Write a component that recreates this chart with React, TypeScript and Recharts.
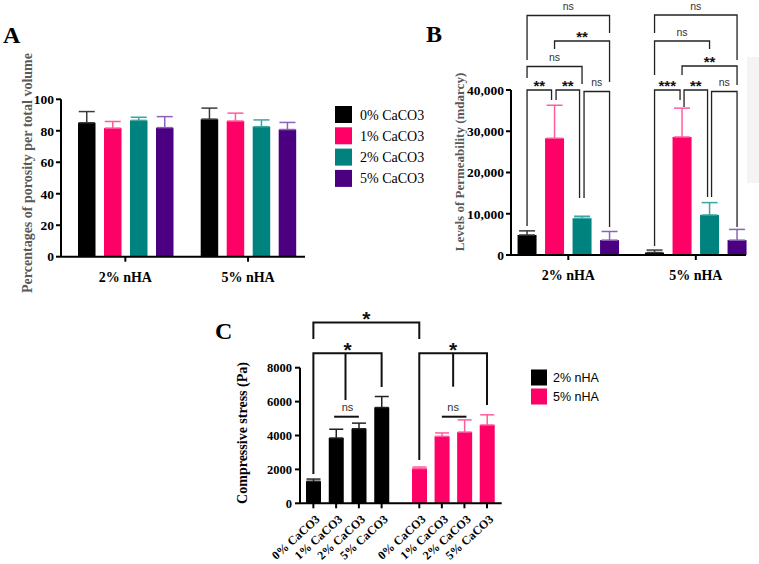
import React from 'react';
import { BarChart, Bar, XAxis, YAxis, ErrorBar } from 'recharts';

// ---------- shared categories ----------
const nhaGroups = ['2% nHA', '5% nHA'];
const caco3Levels = ['0% CaCO3', '1% CaCO3', '2% CaCO3', '5% CaCO3'];
const levelColors = ['#000000', '#FF0066', '#00827F', '#4B0082'];
const levelErrColors = ['#3a3a3a', '#FF5C9D', '#3BA6A2', '#8D62B8'];
const nhaColors = ['#000000', '#FF0066'];

// ---------- Panel A: porosity (%) per CaCO3 level, [2% nHA, 5% nHA] ----------
const porosity0 = [85.1, 87.4];
const porosity1 = [81.7, 86.2];
const porosity2 = [86.6, 82.6];
const porosity5 = [82.0, 80.8];
const porosityErr0 = [7.1, 7.0];
const porosityErr1 = [4.2, 5.0];
const porosityErr2 = [2.0, 4.3];
const porosityErr5 = [7.0, 4.5];
const porosityTicks = [0, 20, 40, 60, 80, 100];

// ---------- Panel B: permeability (mdarcy) ----------
const perm0 = [4850, 600];
const perm1 = [28300, 28600];
const perm2 = [8900, 9700];
const perm5 = [3600, 3600];
const permErr0 = [1000, 600];
const permErr1 = [8000, 7000];
const permErr2 = [500, 3000];
const permErr5 = [2100, 2600];
const permTicks = [0, 10000, 20000, 30000, 40000];

// ---------- Panel C: compressive stress (Pa) ----------
const stress2nHA = [1300, 3850, 4400, 5650];
const stress2nHAErr = [130, 520, 330, 650];
const stress5nHA = [2050, 3950, 4200, 4620];
const stress5nHAErr = [90, 200, 720, 600];
const stressTicks = [0, 2000, 4000, 6000, 8000];

const SERIF = "'Liberation Serif', 'Times New Roman', serif";
const SANS = "'Liberation Sans', Arial, sans-serif";

const groupedTable = (vals: number[][], errs: number[][]) =>
  nhaGroups.map((g, i) => {
    const row: any = { group: g };
    vals.forEach((v, k) => {
      row[`s${k}`] = v[i];
      row[`e${k}`] = [0, errs[k][i]];
    });
    return row;
  });

const dataA = groupedTable(
  [porosity0, porosity1, porosity2, porosity5],
  [porosityErr0, porosityErr1, porosityErr2, porosityErr5]
);
const dataB = groupedTable(
  [perm0, perm1, perm2, perm5],
  [permErr0, permErr1, permErr2, permErr5]
);
const dataC1 = caco3Levels.map((c, i) => ({ cat: c, v: stress2nHA[i], e: [0, stress2nHAErr[i]] }));
const dataC2 = caco3Levels.map((c, i) => ({ cat: c, v: stress5nHA[i], e: [0, stress5nHAErr[i]] }));

// ---------- layouts (pixel geometry of plot areas) ----------
const LA = { left: 61, right: 305, top: 99.3, bottom: 256.7, padL: 3, padR: -4.4, barSize: 17.5, barGap: 8.5 };
const LB = { left: 511, right: 746, top: 90, bottom: 255, padL: -6.45, padR: -13.55, barSize: 19, barGap: 8.5 };
const LC1 = { left: 300, right: 393, top: 367.7, bottom: 503.3, padL: 2, padR: 0 };
const LC2 = { left: 393, right: 501.7, top: 367.7, bottom: 503.3, padL: 15, padR: 3.4 };

const groupedCenter = (L: any, g: number, s: number) => {
  const start = L.left + L.padL;
  const end = L.right - L.padR;
  const band = (end - start) / nhaGroups.length;
  const n = caco3Levels.length;
  const total = n * L.barSize + (n - 1) * L.barGap;
  const off = (band - total) / 2;
  return start + g * band + off + s * (L.barSize + L.barGap) + L.barSize / 2;
};
const catCenter = (L: any, i: number) => {
  const start = L.left + L.padL;
  const end = L.right - L.padR;
  const band = (end - start) / caco3Levels.length;
  return start + band * (i + 0.5);
};

const axisStroke = { stroke: '#000', strokeWidth: 2 };
const tickFont = { fill: '#000', fontSize: 13.5, fontWeight: 700, fontFamily: SERIF };

const RotTick = (props: any) => {
  const { x, y, payload } = props;
  return (
    <g transform={`translate(${x},${y})`}>
      <text transform="rotate(-42)" textAnchor="end" x={-2} y={0} dy={13}
        fontFamily={SERIF} fontWeight={700} fontSize={12} fill="#000">
        {payload.value}
      </text>
    </g>
  );
};

// ---------- significance annotations ----------
const bBrackets = [
  { g: 0, a: 0, b: 3, label: 'ns', y: 15.5, ya: 60, yb: 33, ia: 0, ib: 0 },
  { g: 0, a: 1, b: 3, label: '**', y: 41, ya: 49, yb: 82, ia: 0, ib: 0 },
  { g: 0, a: 0, b: 2, label: 'ns', y: 66.5, ya: 78, yb: 84, ia: 0, ib: 0 },
  { g: 0, a: 0, b: 1, label: '**', y: 90, ya: 226, yb: 100, ia: 0, ib: 3 },
  { g: 0, a: 1, b: 2, label: '**', y: 90, ya: 100, yb: 198, ia: 1.5, ib: 2.5 },
  { g: 0, a: 2, b: 3, label: 'ns', y: 91.5, ya: 198, yb: 227, ia: 2, ib: 0 },
  { g: 1, a: 0, b: 3, label: 'ns', y: 15, ya: 33, yb: 60, ia: 0, ib: 0 },
  { g: 1, a: 0, b: 2, label: 'ns', y: 41, ya: 75, yb: 49, ia: 0, ib: 0 },
  { g: 1, a: 1, b: 3, label: '**', y: 66, ya: 75, yb: 85, ia: 0, ib: 0 },
  { g: 1, a: 0, b: 1, label: '***', y: 90, ya: 246, yb: 100, ia: 0, ib: 2 },
  { g: 1, a: 1, b: 2, label: '**', y: 90, ya: 107, yb: 197, ia: 2, ib: 2 },
  { g: 1, a: 2, b: 3, label: 'ns', y: 91.5, ya: 197, yb: 227, ia: 2, ib: 0 },
];

const SigText = ({ x, cy, label, big }: any) =>
  label === 'ns' ? (
    <text x={x} y={cy + 3} textAnchor="middle" fontFamily={SANS} fontSize={big ? 11 : 10.5} fill="#333">ns</text>
  ) : (
    <text x={x} y={cy + (big ? 12 : 9)} textAnchor="middle" fontFamily={SANS} fontWeight={700}
      fontSize={big ? 21 : 15} fill="#111">{label}</text>
  );

const Overlay = () => {
  const cC1 = (i: number) => catCenter(LC1, i);
  const cC2 = (i: number) => catCenter(LC2, i);
  const lw = 1.3;
  return (
    <svg width={759} height={564} style={{ position: 'absolute', left: 0, top: 0, pointerEvents: 'none' }}>
      {/* panel letters */}
      <text x={3} y={42.7} fontFamily={SERIF} fontWeight={700} fontSize={24}>A</text>
      <text x={426} y={41.7} fontFamily={SERIF} fontWeight={700} fontSize={24}>B</text>
      <text x={215} y={338.5} fontFamily={SERIF} fontWeight={700} fontSize={24}>C</text>

      {/* axis titles */}
      <text transform="translate(32,173) rotate(-90)" textAnchor="middle" fontFamily={SERIF} fontWeight={700}
        fontSize={14} fill="#5a5a5a">Percentages of porosity per total volume</text>
      <text transform="translate(463.5,162) rotate(-90)" textAnchor="middle" fontFamily={SERIF} fontWeight={700}
        fontSize={13} fill="#5a5a5a">Levels of Permeability (mdarcy)</text>
      <text transform="translate(246.5,433) rotate(-90)" textAnchor="middle" fontFamily={SERIF} fontWeight={700}
        fontSize={14} fill="#000">Compressive stress (Pa)</text>

      {/* legend A */}
      {caco3Levels.map((lv, k) => {
        const cy = 114.5 + k * 21.3;
        return (
          <g key={lv}>
            <rect x={335} y={cy - 8.5} width={17} height={17} fill={levelColors[k]} />
            <text x={360} y={cy + 5} fontFamily={SERIF} fontSize={14} fill="#000">{lv}</text>
          </g>
        );
      })}

      {/* legend C */}
      {nhaGroups.map((g, k) => {
        const cy = 377.5 + k * 19;
        return (
          <g key={g}>
            <rect x={531} y={cy - 8} width={16} height={16} fill={nhaColors[k]} />
            <text x={553} y={cy + 4.5} fontFamily={SANS} fontSize={12.5} fill="#000">{g}</text>
          </g>
        );
      })}

      {/* faint scan artefact in panel B */}
      <rect x={747} y={57} width={12} height={126} fill="#f4f4f4" />

      {/* B brackets */}
      {bBrackets.map((br, i) => {
        const xa = groupedCenter(LB, br.g, br.a) + br.ia;
        const xb = groupedCenter(LB, br.g, br.b) - br.ib;
        const mid = (xa + xb) / 2;
        return (
          <g key={i}>
            <polyline points={`${xa},${br.ya} ${xa},${br.y} ${xb},${br.y} ${xb},${br.yb}`}
              fill="none" stroke="#222" strokeWidth={lw} />
            <SigText x={mid} cy={br.y - 8.5} label={br.label} />
          </g>
        );
      })}

      {/* C brackets */}
      <g stroke="#111" strokeWidth={2} fill="none">
        <polyline points={`${cC1(0)},339 ${cC1(0)},322.5 ${cC2(0)},322.5 ${cC2(0)},339`} />
        <polyline points={`${cC1(0)},474 ${cC1(0)},353.3 ${cC1(3)},353.3 ${cC1(3)},387`} />
        <line x1={(cC1(1) + cC1(2)) / 2 - 2} y1={353.3} x2={(cC1(1) + cC1(2)) / 2 - 2} y2={400} />
        <line x1={cC1(1) - 2} y1={416.7} x2={cC1(2)} y2={416.7} />
        <polyline points={`${cC2(0)},460 ${cC2(0)},353.3 ${cC2(3)},353.3 ${cC2(3)},405`} />
        <line x1={(cC2(1) + cC2(2)) / 2} y1={353.3} x2={(cC2(1) + cC2(2)) / 2} y2={386.7} />
        <line x1={cC2(1)} y1={416.7} x2={cC2(2) + 2} y2={416.7} />
      </g>
      <SigText x={(cC1(0) + cC2(0)) / 2} cy={314} label="*" big />
      <SigText x={(cC1(1) + cC1(2)) / 2} cy={345} label="*" big />
      <SigText x={(cC2(1) + cC2(2)) / 2} cy={345} label="*" big />
      <SigText x={(cC1(1) + cC1(2)) / 2} cy={407.5} label="ns" big />
      <SigText x={(cC2(1) + cC2(2)) / 2} cy={407.5} label="ns" big />
    </svg>
  );
};

const GroupedChart = ({ data, L, boxLeft, boxWidth, boxHeight, yWidth, domain, ticks, fmt }: any) => {
  const marginLeft = L.left - boxLeft - yWidth;
  const xHeight = 30;
  const marginBottom = boxHeight - L.bottom - xHeight;
  return (
    <div style={{ position: 'absolute', left: boxLeft, top: 0 }}>
      <BarChart width={boxWidth} height={boxHeight} data={data} barGap={L.barGap}
        margin={{ top: L.top, right: boxLeft + boxWidth - L.right, bottom: marginBottom, left: marginLeft }}>
        <XAxis dataKey="group" type="category" padding={{ left: L.padL, right: L.padR }}
          axisLine={axisStroke} tickLine={axisStroke} tickSize={5} tickMargin={10} height={xHeight}
          tick={{ ...tickFont, fontSize: 14 }} interval={0} />
        <YAxis type="number" domain={domain} ticks={ticks} interval={0} width={yWidth}
          axisLine={axisStroke} tickLine={axisStroke} tickSize={5} tickMargin={2}
          tick={tickFont} tickFormatter={fmt} allowDataOverflow />
        {caco3Levels.map((lv, k) => (
          <Bar key={lv} dataKey={`s${k}`} name={lv} fill={levelColors[k]} barSize={L.barSize}
            isAnimationActive={false}>
            <ErrorBar dataKey={`e${k}`} width={8} stroke={levelErrColors[k]} strokeWidth={1.5}
              direction="y" isAnimationActive={false} />
          </Bar>
        ))}
      </BarChart>
    </div>
  );
};

const StressChart = ({ data, L, boxLeft, boxWidth, color, errColor, showY }: any) => {
  const boxTop = 290;
  const boxHeight = 274;
  const xHeight = 60;
  const yWidth = showY ? 70 : 0;
  const marginLeft = L.left - boxLeft - yWidth;
  return (
    <div style={{ position: 'absolute', left: boxLeft, top: boxTop }}>
      <BarChart width={boxWidth} height={boxHeight} data={data}
        margin={{ top: L.top - boxTop, right: boxLeft + boxWidth - L.right, bottom: boxHeight - (L.bottom - boxTop) - xHeight, left: marginLeft }}>
        <XAxis dataKey="cat" type="category" padding={{ left: L.padL, right: L.padR }}
          axisLine={axisStroke} tickLine={axisStroke} tickSize={5} tickMargin={1} height={xHeight}
          tick={<RotTick />} interval={0} />
        <YAxis type="number" domain={[0, 8000]} ticks={stressTicks} interval={0} width={yWidth} hide={!showY}
          axisLine={axisStroke} tickLine={axisStroke} tickSize={5} tickMargin={3}
          tick={{ ...tickFont, fontSize: 12.5 }} />
        <Bar dataKey="v" fill={color} barSize={15} isAnimationActive={false}>
          <ErrorBar dataKey="e" width={7} stroke={errColor} strokeWidth={1.5} direction="y" isAnimationActive={false} />
        </Bar>
      </BarChart>
    </div>
  );
};

export default function App() {
  return (
    <div style={{ position: 'fixed', left: 0, top: 0, width: 759, height: 564, background: '#fff', overflow: 'hidden' }}>
      <GroupedChart data={dataA} L={LA} boxLeft={0} boxWidth={330} boxHeight={292} yWidth={40}
        domain={[0, 100]} ticks={porosityTicks} fmt={(v: number) => String(v)} />
      <GroupedChart data={dataB} L={LB} boxLeft={440} boxWidth={319} boxHeight={292} yWidth={60}
        domain={[0, 40000]} ticks={permTicks} fmt={(v: number) => v.toLocaleString('en-US')} />
      <StressChart data={dataC1} L={LC1} boxLeft={230} boxWidth={163} color={nhaColors[0]} errColor="#222" showY />
      <StressChart data={dataC2} L={LC2} boxLeft={320} boxWidth={193} color={nhaColors[1]} errColor="#FF5C9D" showY={false} />
      <Overlay />
    </div>
  );
}
